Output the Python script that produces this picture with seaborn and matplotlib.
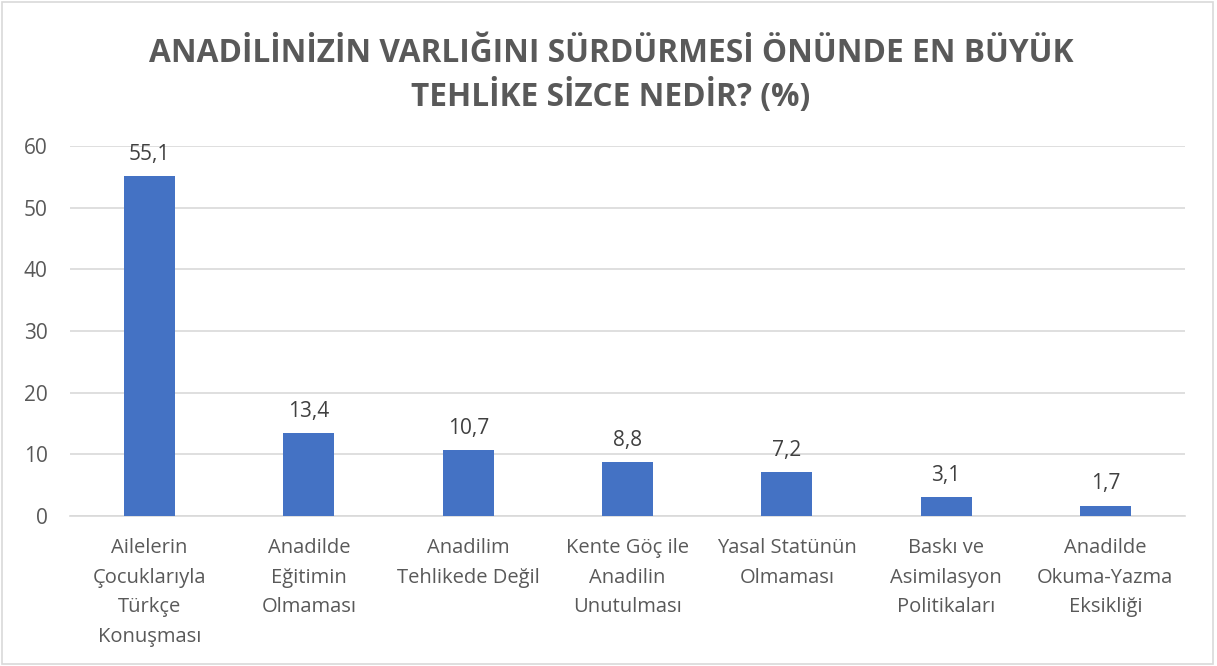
import matplotlib
matplotlib.use("Agg")
import matplotlib.pyplot as plt
import pandas as pd
import seaborn as sns

categories = [
    "Ailelerin\nÇocuklarıyla\nTürkçe\nKonuşması",
    "Anadilde\nEğitimin\nOlmaması",
    "Anadilim\nTehlikede Değil",
    "Kente Göç ile\nAnadilin\nUnutulması",
    "Yasal Statünün\nOlmaması",
    "Baskı ve\nAsimilasyon\nPolitikaları",
    "Anadilde\nOkuma-Yazma\nEksikliği",
]
values = [55.1, 13.4, 10.7, 8.8, 7.2, 3.1, 1.7]
value_labels = ["55,1", "13,4", "10,7", "8,8", "7,2", "3,1", "1,7"]
y_ticks = [0, 10, 20, 30, 40, 50, 60]

title = "ANADİLİNİZİN VARLIĞINI SÜRDÜRMESİ ÖNÜNDE EN BÜYÜK\nTEHLİKE SİZCE NEDİR? (%)"

sns.set_theme(style="white")
plt.rcParams["font.family"] = ["Open Sans", "DejaVu Sans"]

text_color = "#595959"
grid_color = "#D9D9D9"
bar_color = "#4472C4"

df = pd.DataFrame({"category": categories, "value": values})

fig = plt.figure(figsize=(12.17, 6.66), dpi=100)
ax = fig.add_axes([0.0575, 0.2252, 0.9162, 0.5556])

sns.barplot(data=df, x="category", y="value", color=bar_color,
            width=0.32, saturation=1, linewidth=0, ax=ax, zorder=3)

ax.set_ylim(0, 60)
ax.set_xlim(-0.5, len(categories) - 0.5)
ax.set_yticks(y_ticks)
ax.set_yticklabels([str(t) for t in y_ticks], fontsize=15, color=text_color)
ax.set_xticks(range(len(categories)))
ax.set_xticklabels(categories, fontsize=14.5, color=text_color, linespacing=1.63,
                   va="top")
ax.tick_params(axis="x", length=0, pad=16)
ax.tick_params(axis="y", length=0, pad=16)
ax.set_xlabel("")
ax.set_ylabel("")

ax.yaxis.grid(True, color=grid_color, linewidth=1.2, zorder=0)
for side in ["left", "right", "top"]:
    ax.spines[side].set_visible(False)
ax.spines["bottom"].set_color(grid_color)
ax.spines["bottom"].set_linewidth(1.2)

for i, (v, lab) in enumerate(zip(values, value_labels)):
    ax.annotate(lab, (i, v), xytext=(0, 8), textcoords="offset points",
                ha="center", va="bottom", fontsize=15, color="#404040")

fig.text(0.502, 0.887, title, ha="center", va="center", fontsize=22.8,
         fontweight="bold", color=text_color, linespacing=1.35)

# thin frame around the whole chart
fig.patches.append(plt.Rectangle((0.002, 0.003), 0.995, 0.994,
                                 transform=fig.transFigure, fill=False,
                                 edgecolor=grid_color, linewidth=1.2))

fig.savefig("out.png", dpi=100)
